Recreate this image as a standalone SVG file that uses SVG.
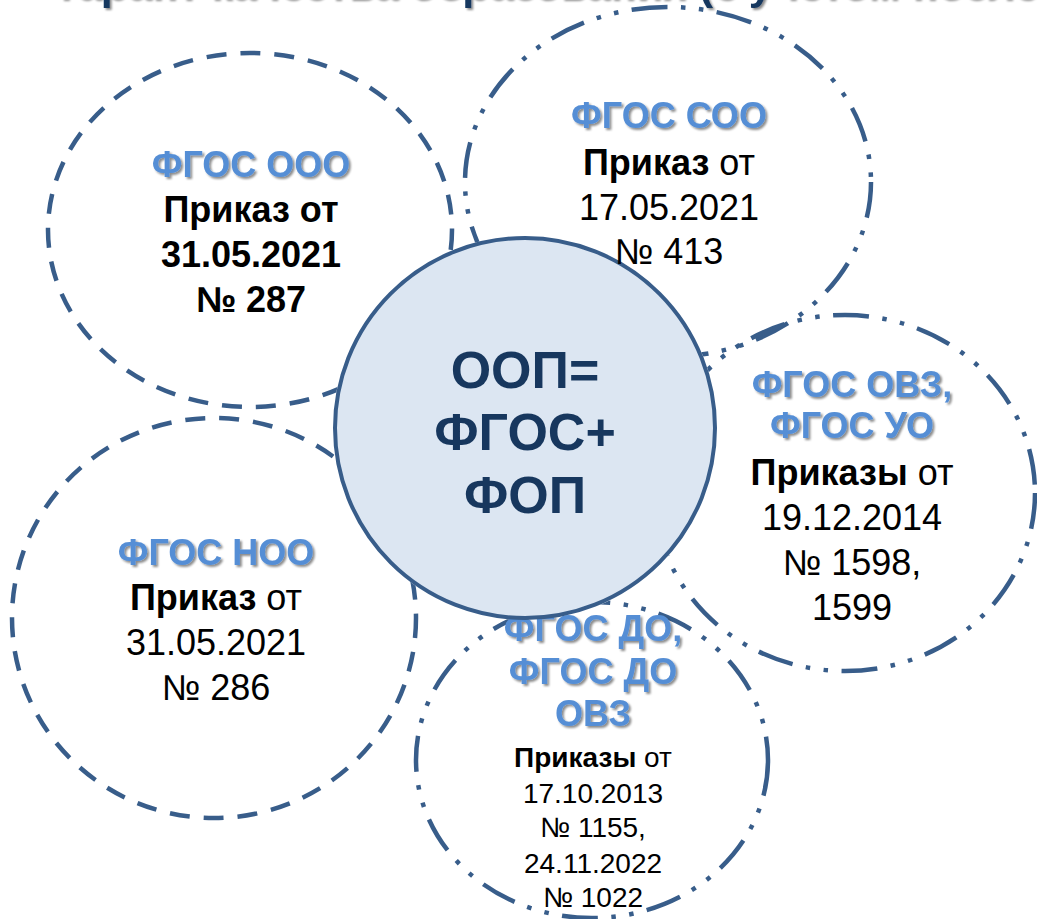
<svg xmlns="http://www.w3.org/2000/svg" width="1037" height="919" viewBox="0 0 1037 919">
<defs>
<filter id="sh" x="-10%" y="-30%" width="130%" height="170%">
<feDropShadow dx="2" dy="2" stdDeviation="1.2" flood-color="#000" flood-opacity="0.45"/>
</filter>
<mask id="outside" maskUnits="userSpaceOnUse" x="0" y="0" width="1037" height="919">
<rect x="0" y="0" width="1037" height="919" fill="#fff"/>
<circle cx="525" cy="428" r="192" fill="#000"/>
</mask>
<style>
.dash{fill:none;stroke:#385D8A;stroke-width:4.5;stroke-dasharray:20 14}
.dd{fill:none;stroke:#385D8A;stroke-width:4.5;stroke-dasharray:36 13.5 4.5 13.5 4.5 13.5}
.hd{font-family:"Liberation Sans",Arial,sans-serif;font-weight:bold;font-size:36px;fill:#558ED5;text-anchor:middle;filter:url(#sh)}
.t{font-family:"Liberation Sans",Arial,sans-serif;font-size:36px;fill:#000;text-anchor:middle}
.b{font-weight:bold}
.s{font-size:28px}
.main{font-family:"Liberation Sans",Arial,sans-serif;font-weight:bold;font-size:52px;fill:#17375E;text-anchor:middle}
.title{font-family:"Liberation Sans",Arial,sans-serif;font-weight:bold;font-size:43px;fill:#17375E;filter:url(#sh)}
</style>
</defs>
<rect width="1037" height="919" fill="#fff"/>
<text class="title" x="59" y="-1">гарант качества образования (с учетом последних</text>

<g id="fgos-do">
<ellipse class="dd" cx="592" cy="760" rx="176" ry="158" mask="url(#outside)"/>
<text class="hd" x="593" y="641">ФГОС ДО,</text>
<text class="hd" x="593" y="684">ФГОС ДО</text>
<text class="hd" x="593" y="726">ОВЗ</text>
<text class="t s" x="593" y="767"><tspan class="b">Приказы</tspan> от</text>
<text class="t s" x="593" y="803">17.10.2013</text>
<text class="t s" x="593" y="837">№ 1155,</text>
<text class="t s" x="593" y="873">24.11.2022</text>
<text class="t s" x="593" y="907">№ 1022</text>
</g>

<g id="center">
<circle cx="525" cy="428" r="190" fill="#DCE6F2" stroke="#385D8A" stroke-width="4"/>
<text class="main" x="525" y="388">ООП=</text>
<text class="main" x="525" y="450">ФГОС+</text>
<text class="main" x="525" y="513">ФОП</text>
</g>

<g id="fgos-ooo">
<ellipse class="dash" cx="250" cy="230" rx="202" ry="177" mask="url(#outside)"/>
<text class="hd" x="251" y="177">ФГОС ООО</text>
<text class="t b" x="251" y="222">Приказ от</text>
<text class="t b" x="251" y="267">31.05.2021</text>
<text class="t b" x="251" y="312">№ 287</text>
</g>

<g id="fgos-soo">
<ellipse class="dd" cx="668" cy="182" rx="203" ry="175" mask="url(#outside)"/>
<text class="hd" x="669" y="128">ФГОС СОО</text>
<text class="t" x="669" y="175"><tspan class="b">Приказ</tspan> от</text>
<text class="t" x="669" y="220">17.05.2021</text>
<text class="t" x="669" y="264">№ 413</text>
</g>

<g id="fgos-ovz">
<ellipse class="dd" cx="845" cy="493" rx="190" ry="178" mask="url(#outside)"/>
<text class="hd" x="852" y="397">ФГОС ОВЗ,</text>
<text class="hd" x="852" y="438">ФГОС УО</text>
<text class="t" x="852" y="485"><tspan class="b">Приказы</tspan> от</text>
<text class="t" x="852" y="530">19.12.2014</text>
<text class="t" x="852" y="575">№ 1598,</text>
<text class="t" x="852" y="620">1599</text>
</g>

<g id="fgos-noo">
<ellipse class="dash" cx="214" cy="618" rx="202" ry="200" mask="url(#outside)"/>
<text class="hd" x="216" y="565">ФГОС НОО</text>
<text class="t" x="216" y="610"><tspan class="b">Приказ</tspan> от</text>
<text class="t" x="216" y="655">31.05.2021</text>
<text class="t" x="216" y="700">№ 286</text>
</g>
</svg>
